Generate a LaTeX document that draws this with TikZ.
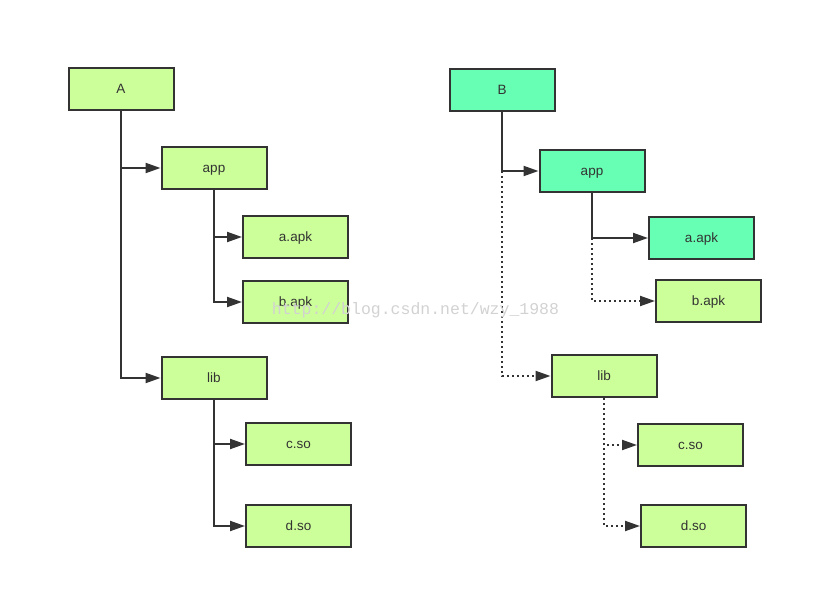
\documentclass[tikz,border=0pt]{standalone}
\usepackage{fontspec}
\setmainfont{Liberation Sans}
\newfontfamily\wmfont{Liberation Mono}
\usetikzlibrary{arrows.meta}
\definecolor{lgreen}{HTML}{CCFF99}
\definecolor{teal2}{HTML}{66FFB3}
\definecolor{ink}{HTML}{333333}
\tikzset{
  box/.style={draw=ink, line width=2pt, fill=lgreen, minimum width=105pt, minimum height=42pt, inner sep=0pt, text=ink, font=\fontsize{13.5}{15}\selectfont, text height=9.7pt, text depth=0pt},
  tbox/.style={box, fill=teal2},
  conn/.style={draw=ink, line width=2pt, -{Triangle[length=15pt,width=10pt]}},
  dconn/.style={conn, dash pattern=on 2pt off 3pt},
}
\begin{document}
\begin{tikzpicture}[x=1pt,y=-1pt]
\useasboundingbox (0,0) rectangle (813,599);
% tree A
\node[box] (A) at (121,89) {A};
\node[box] (appA) at (214,168) {app};
\node[box] (aA) at (295.5,237) {a.apk};
\node[box] (bA) at (295.5,302) {b.apk};
\node[box] (libA) at (214,378) {lib};
\node[box] (cA) at (298.5,444) {c.so};
\node[box] (dA) at (298.5,526) {d.so};
% tree B
\node[tbox] (B) at (502,90) {B};
\node[tbox] (appB) at (592,171) {app};
\node[tbox] (aB) at (701.5,238) {a.apk};
\node[box] (bB) at (708.5,301) {b.apk};
\node[box] (libB) at (604,376) {lib};
\node[box] (cB) at (690.5,445) {c.so};
\node[box] (dB) at (693.5,526) {d.so};
% connectors A
\draw[conn] (A.south) |- (appA.west);
\draw[conn] (A.south) |- (libA.west);
\draw[conn] (appA.south) |- (aA.west);
\draw[conn] (appA.south) |- (bA.west);
\draw[conn] (libA.south) |- (cA.west);
\draw[conn] (libA.south) |- (dA.west);
% connectors B
\coordinate (jB) at (B.south |- appB.west);
\coordinate (jappB) at (appB.south |- aB.west);
\draw[conn] (B.south) |- (appB.west);
\draw[dconn] (jB) |- (libB.west);
\draw[conn] (appB.south) |- (aB.west);
\draw[dconn] (jappB) |- (bB.west);
\draw[dconn] (libB.south) |- (cB.west);
\draw[dconn] (libB.south) |- (dB.west);
% watermark
\node[text=gray!35, font=\wmfont\fontsize{16.5}{18}\selectfont, inner sep=0pt] (wm) at (415.5,310) {http://blog.csdn.net/wzy\_1988};
\end{tikzpicture}
\end{document}
